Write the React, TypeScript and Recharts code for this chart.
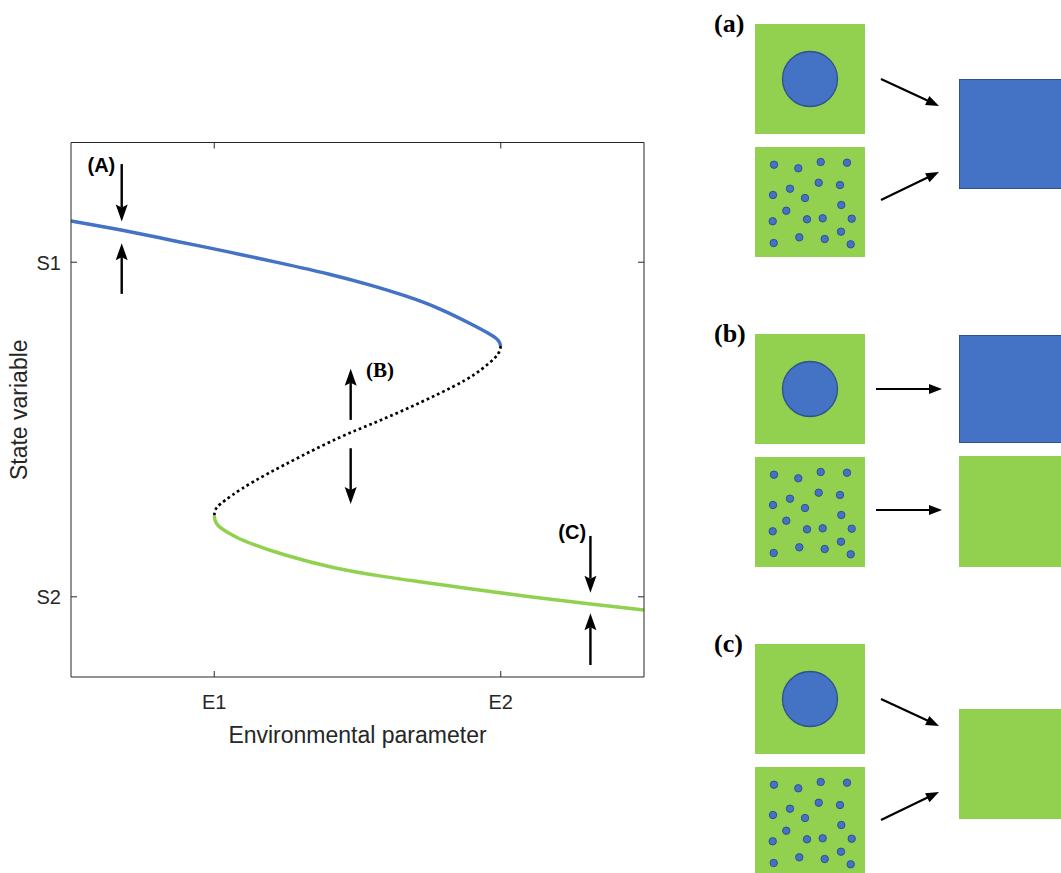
import React from 'react';
import { LineChart, Line, XAxis, YAxis, ReferenceLine, ReferenceDot } from 'recharts';

// ---- axis ticks ----
const xTicks = [2.5, 7.5];
const xTickLabels = ['E1', 'E2'];
const yTicks = [1.5, 7.76];
const yTickLabels = ['S2', 'S1'];

// ---- S-shaped equilibrium curve ----
const upperX = [0, 0.89, 1.815, 2.723, 3.647, 4.52, 5.218, 5.859, 6.44, 7.021, 7.312, 7.428, 7.475, 7.5];
const upperY = [8.531, 8.363, 8.157, 7.961, 7.746, 7.54, 7.338, 7.128, 6.898, 6.586, 6.417, 6.333, 6.277, 6.193];
const middleX = [7.5, 7.485, 7.429, 7.195, 6.906, 6.44, 5.859, 5.276, 4.695, 3.997, 3.415, 2.949, 2.658, 2.543, 2.506, 2.5];
const middleY = [6.193, 6.099, 5.993, 5.775, 5.557, 5.308, 5.014, 4.746, 4.496, 4.122, 3.798, 3.512, 3.28, 3.186, 3.096, 3.012];
const lowerX = [2.5, 2.513, 2.557, 2.658, 2.888, 3.124, 3.705, 4.578, 5.45, 6.091, 6.906, 8.068, 9.087, 10];
const lowerY = [3.012, 2.919, 2.834, 2.75, 2.61, 2.501, 2.283, 2.034, 1.877, 1.783, 1.659, 1.491, 1.36, 1.254];

// ---- perturbation arrows ----
const arrowX = [0.885, 0.885, 4.881, 4.881, 9.065, 9.065];
const arrowFrom = [9.596, 7.168, 4.81, 4.28, 2.639, 0.225];
const arrowTo = [8.521, 8.117, 5.765, 3.238, 1.578, 1.192];

const markLabels = ['(A)', '(B)', '(C)'];
const markLabelX = [0.53, 5.393, 8.747];
const markLabelY = [9.583, 5.746, 2.72];
const markLabelSerif = [false, true, false];

// ---- schematic panels ----
const panelLabels = ['(a)', '(b)', '(c)'];
const panelTops = [24, 334, 644];
const dotDX = [19, 43.3, 65.7, 92, 18, 35, 50, 63.7, 85, 31.3, 86.3, 17.7, 52, 67.7, 96.7, 18.7, 44.3, 69.7, 86, 95.7];
const dotDY = [17.7, 21.3, 15, 15.7, 48, 41.7, 51, 35.7, 38, 63.7, 58, 74.3, 72.3, 71.3, 71.7, 96, 90.3, 92, 84.7, 97.3];

const toPoints = (xs: number[], ys: number[]) => xs.map((x, i) => ({ x, y: ys[i] }));
const upperData = toPoints(upperX, upperY);
const middleData = toPoints(middleX, middleY);
const lowerData = toPoints(lowerX, lowerY);

const SANS = "'Liberation Sans', Arial, Helvetica, sans-serif";
const SERIF = "'Liberation Serif', 'Times New Roman', serif";
const AX = '#262626';
const BLUE = '#4472C4';
const BLUE_EDGE = '#2F528F';
const GREEN = '#92D050';

const BottomTick = (p: any) => {
  const { x, y, payload } = p;
  const i = xTicks.indexOf(payload.value);
  return (
    <g>
      <line x1={x} y1={y} x2={x} y2={y - 6} stroke={AX} strokeWidth={1} />
      <text x={x} y={y + 32} textAnchor="middle" fontSize={20} fill={AX} fontFamily={SANS}>
        {xTickLabels[i]}
      </text>
    </g>
  );
};
const TopTick = (p: any) => {
  const { x, y } = p;
  return <line x1={x} y1={y} x2={x} y2={y + 6} stroke={AX} strokeWidth={1} />;
};
const LeftTick = (p: any) => {
  const { x, y, payload } = p;
  const i = yTicks.indexOf(payload.value);
  return (
    <g>
      <line x1={x} y1={y} x2={x + 6} y2={y} stroke={AX} strokeWidth={1} />
      <text x={x - 10} y={y + 7.5} textAnchor="end" fontSize={20} fill={AX} fontFamily={SANS}>
        {yTickLabels[i]}
      </text>
    </g>
  );
};
const RightTick = (p: any) => {
  const { x, y } = p;
  return <line x1={x} y1={y} x2={x - 6} y2={y} stroke={AX} strokeWidth={1} />;
};

const YTitle = (p: any) => {
  const vb = p && p.viewBox ? p.viewBox : { x: 0, y: 142.5, width: 71, height: 534.5 };
  const cx = vb.x + 19;
  const cy = vb.y + vb.height / 2;
  return (
    <text x={cx} y={cy} transform={`rotate(-90, ${cx}, ${cy})`} textAnchor="middle" dominantBaseline="central"
      fontSize={23} fill={AX} fontFamily={SANS}>State variable</text>
  );
};
const XTitle = (p: any) => {
  const vb = p && p.viewBox ? p.viewBox : { x: 71, y: 677, width: 573, height: 100 };
  return (
    <text x={vb.x + vb.width / 2} y={vb.y + 66} textAnchor="middle" fontSize={23} fill={AX} fontFamily={SANS}>
      Environmental parameter
    </text>
  );
};

const ArrowShape = (p: any) => {
  const { x1, y1, x2, y2 } = p;
  const dx = x2 - x1;
  const dy = y2 - y1;
  const len = Math.hypot(dx, dy) || 1;
  const ux = dx / len;
  const uy = dy / len;
  const hl = 17;
  const hw = 6;
  const bx = x2 - ux * hl;
  const by = y2 - uy * hl;
  const nx = x2 - ux * (hl - 3);
  const ny = y2 - uy * (hl - 3);
  const px = -uy;
  const py = ux;
  return (
    <g>
      <line x1={x1} y1={y1} x2={nx} y2={ny} stroke="#000" strokeWidth={2.4} />
      <polygon
        points={`${x2},${y2} ${bx + px * hw},${by + py * hw} ${nx},${ny} ${bx - px * hw},${by - py * hw}`}
        fill="#000"
      />
    </g>
  );
};

const DiagArrow = ({ x1, y1, x2, y2 }: { x1: number; y1: number; x2: number; y2: number }) => {
  const dx = x2 - x1;
  const dy = y2 - y1;
  const len = Math.hypot(dx, dy) || 1;
  const ux = dx / len;
  const uy = dy / len;
  const hl = 13;
  const hw = 5;
  const bx = x2 - ux * hl;
  const by = y2 - uy * hl;
  const px = -uy;
  const py = ux;
  return (
    <g>
      <line x1={x1} y1={y1} x2={bx + ux * 2} y2={by + uy * 2} stroke="#000" strokeWidth={2.2} />
      <polygon points={`${x2},${y2} ${bx + px * hw},${by + py * hw} ${bx - px * hw},${by - py * hw}`} fill="#000" />
    </g>
  );
};

const Panel = ({ idx }: { idx: number }) => {
  const t = panelTops[idx];
  const sq = 110;
  const sx = 755;
  const bottomTop = t + 123;
  return (
    <g>
      <text x={714} y={t + 8} fontSize={26} fontWeight="bold" fontFamily={SERIF} fill="#000">
        {panelLabels[idx]}
      </text>
      <rect x={sx} y={t} width={sq} height={sq} fill={GREEN} />
      <circle cx={sx + 55} cy={t + 55} r={27.5} fill={BLUE} stroke={BLUE_EDGE} strokeWidth={1.3} />
      <rect x={sx} y={bottomTop} width={sq} height={sq} fill={GREEN} />
      {dotDX.map((dx, i) => (
        <circle key={i} cx={sx + dx} cy={bottomTop + dotDY[i]} r={3.7} fill={BLUE} stroke={BLUE_EDGE} strokeWidth={1} />
      ))}
      {idx === 0 && (
        <g>
          <DiagArrow x1={881} y1={t + 55} x2={939} y2={t + 82} />
          <DiagArrow x1={881} y1={t + 176} x2={939} y2={t + 148} />
          <rect x={959.5} y={t + 55.5} width={110} height={109} fill={BLUE} stroke={BLUE_EDGE} strokeWidth={1} />
        </g>
      )}
      {idx === 1 && (
        <g>
          <DiagArrow x1={876} y1={t + 55} x2={942} y2={t + 55} />
          <DiagArrow x1={876} y1={t + 176} x2={942} y2={t + 176} />
          <rect x={959.5} y={t + 1.5} width={110} height={107} fill={BLUE} stroke={BLUE_EDGE} strokeWidth={1} />
          <rect x={959} y={t + 122} width={110} height={111} fill={GREEN} />
        </g>
      )}
      {idx === 2 && (
        <g>
          <DiagArrow x1={881} y1={t + 55} x2={939} y2={t + 82} />
          <DiagArrow x1={881} y1={t + 176} x2={939} y2={t + 148} />
          <rect x={959} y={t + 65} width={110} height={110} fill={GREEN} />
        </g>
      )}
    </g>
  );
};

export default function App() {
  return (
    <div style={{ position: 'absolute', left: 0, top: 0, width: 1061, height: 873, background: '#fff', overflow: 'hidden' }}>
      <div style={{ position: 'absolute', left: 0, top: 0 }}>
        <LineChart width={700} height={777} margin={{ top: 141.5, right: 55, bottom: 0, left: 0 }}>
          <XAxis
            xAxisId={0}
            type="number"
            dataKey="x"
            domain={[0, 10]}
            ticks={xTicks}
            allowDataOverflow
            height={100}
            tickSize={0}
            tickMargin={0}
            tickLine={false}
            tick={BottomTick}
            axisLine={{ stroke: AX, strokeWidth: 1 }}
            label={XTitle}
          />
          <XAxis
            xAxisId="top"
            orientation="top"
            type="number"
            dataKey="x"
            domain={[0, 10]}
            ticks={xTicks}
            allowDataOverflow
            height={1}
            tickSize={0}
            tickMargin={0}
            tickLine={false}
            tick={TopTick}
            axisLine={{ stroke: AX, strokeWidth: 1 }}
          />
          <YAxis
            yAxisId={0}
            type="number"
            domain={[0, 10]}
            ticks={yTicks}
            allowDataOverflow
            width={71}
            tickSize={0}
            tickMargin={0}
            tickLine={false}
            tick={LeftTick}
            axisLine={{ stroke: AX, strokeWidth: 1 }}
            label={YTitle}
          />
          <YAxis
            yAxisId="right"
            orientation="right"
            type="number"
            domain={[0, 10]}
            ticks={yTicks}
            allowDataOverflow
            width={1}
            tickSize={0}
            tickMargin={0}
            tickLine={false}
            tick={RightTick}
            axisLine={{ stroke: AX, strokeWidth: 1 }}
          />
          <Line data={upperData} dataKey="y" type="basis" stroke={BLUE} strokeWidth={3.5} dot={false}
            activeDot={false} isAnimationActive={false} />
          <Line data={middleData} dataKey="y" type="basis" stroke="#000" strokeWidth={2.7}
            strokeDasharray="2.7 3" dot={false} activeDot={false} isAnimationActive={false} />
          <Line data={lowerData} dataKey="y" type="basis" stroke={GREEN} strokeWidth={3.5} dot={false}
            activeDot={false} isAnimationActive={false} />
          {arrowX.map((ax, i) => (
            <ReferenceLine
              key={`arr${i}`}
              segment={[{ x: ax, y: arrowFrom[i] }, { x: ax, y: arrowTo[i] }]}
              ifOverflow="visible"
              shape={ArrowShape}
            />
          ))}
          {markLabels.map((lab, i) => (
            <ReferenceDot
              key={`lab${i}`}
              x={markLabelX[i]}
              y={markLabelY[i]}
              r={0}
              ifOverflow="visible"
              shape={(p: any) => (
                <text x={p.cx} y={p.cy} textAnchor="middle" dominantBaseline="central" fontWeight="bold"
                  fontSize={markLabelSerif[i] ? 21 : 20} fontFamily={markLabelSerif[i] ? SERIF : SANS} fill="#000">
                  {lab}
                </text>
              )}
            />
          ))}
        </LineChart>
      </div>
      <svg width={1061} height={873} style={{ position: 'absolute', left: 0, top: 0, pointerEvents: 'none' }}>
        {panelTops.map((_, i) => (
          <Panel key={i} idx={i} />
        ))}
      </svg>
    </div>
  );
}
